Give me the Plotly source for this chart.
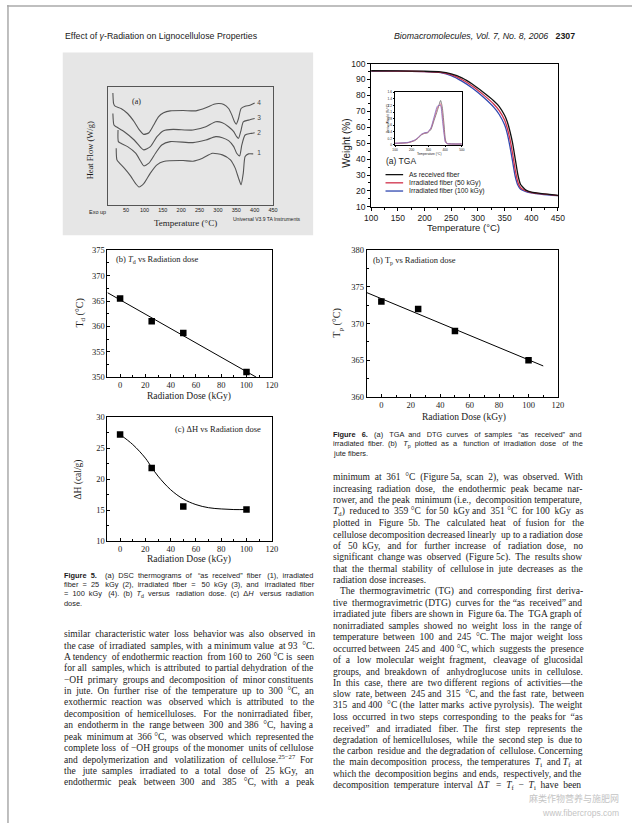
import re
import plotly.graph_objects as go
import numpy as np

W, H = 639, 828

# ---------------- DATA ----------------
# Figure 5a: DSC thermograms (temperature in degC, heat flow in arbitrary offset units)
dsc1_T = [23, 25, 32, 45, 63, 76, 85, 98, 116, 134, 152, 205, 232, 258, 285, 312, 334, 347, 356, 363, 369, 374, 383, 396]
dsc1_hf = [1.70, 1.35, 1.25, 1.10, 0.85, 0.63, 0.53, 0.63, 0.95, 1.20, 1.30, 1.33, 1.31, 1.40, 1.55, 1.50, 1.35, 1.10, 0.80, 0.60, 0.95, 1.45, 1.53, 1.53]
dsc2_T = [28, 29, 36, 54, 76, 90, 98, 112, 130, 147, 170, 232, 267, 294, 312, 329, 343, 351, 359, 365, 374, 391, 400]
dsc2_hf = [2.25, 1.90, 1.85, 1.75, 1.55, 1.30, 1.17, 1.25, 1.55, 1.80, 1.90, 1.87, 1.95, 2.05, 2.02, 1.93, 1.75, 1.55, 1.47, 1.80, 2.10, 2.15, 2.17]
dsc3_T = [14, 17, 23, 45, 72, 90, 98, 116, 134, 152, 178, 232, 267, 294, 312, 329, 343, 351, 356, 363, 369, 383, 400]
dsc3_hf = [2.75, 2.40, 2.35, 2.20, 1.95, 1.72, 1.65, 1.75, 2.05, 2.23, 2.27, 2.25, 2.35, 2.50, 2.47, 2.35, 2.20, 2.05, 2.00, 2.25, 2.50, 2.55, 2.60]
dsc4_T = [14, 16, 20, 36, 54, 72, 85, 98, 112, 125, 138, 152, 170, 205, 240, 267, 289, 303, 316, 329, 338, 345, 350, 356, 363, 374, 387, 400]
dsc4_hf = [3.37, 3.05, 2.97, 2.90, 2.75, 2.50, 2.27, 2.12, 2.17, 2.40, 2.65, 2.77, 2.83, 2.84, 2.83, 2.92, 3.03, 3.05, 3.02, 2.90, 2.70, 2.50, 2.43, 2.60, 2.90, 2.97, 3.00, 3.07]
dsc_curve_labels = ["1", "2", "3", "4"]
dsc_label_hf = [1.55, 2.15, 2.60, 3.05]
dsc_ticks = [50, 100, 150, 200, 250, 300, 350, 400, 450]

# Figure 5b / 5c / 6b: values vs radiation dose
dose = [0, 25, 50, 100]
td = [365.5, 361.0, 358.7, 351.0]
dh = [27.2, 21.8, 15.6, 15.1]
dh_fit_dose = [0, 10, 20, 25, 30, 40, 50, 60, 70, 80, 90, 100]
dh_fit = [27.2, 25.6, 23.4, 21.9, 20.5, 18.3, 16.8, 15.9, 15.4, 15.2, 15.1, 15.1]
tp = [373.0, 372.0, 369.0, 365.0]

# Figure 6a: TGA (weight %) and inset DTG
tga_T = [100, 150, 200, 230, 250, 270, 290, 310, 330, 340, 350, 355, 360, 365, 370, 375, 380, 390, 400, 420, 450]
tga_asrec = [95.5, 95.4, 95.2, 94.8, 93.5, 91.0, 87.0, 82.0, 76.5, 73.0, 67.5, 63.5, 57.5, 50.0, 40.0, 30.0, 24.0, 20.5, 19.3, 18.3, 17.2]
tga_50 = [95.4, 95.3, 95.0, 94.5, 93.0, 90.0, 85.8, 80.5, 74.5, 70.5, 64.5, 59.5, 52.5, 43.5, 33.0, 25.5, 22.0, 20.0, 19.0, 18.1, 17.1]
tga_100 = [95.3, 95.2, 94.9, 94.3, 92.5, 89.0, 84.5, 79.0, 72.5, 68.0, 61.5, 56.0, 48.0, 38.5, 29.0, 23.5, 21.0, 19.6, 18.8, 17.9, 17.0]
tga_names = ["As received fiber", "Irradiated fiber (50 kGy)", "Irradiated fiber (100 kGy)"]
tga_colors = ["#111111", "#d0304a", "#3048b0"]
dtg_T = [100, 178, 217, 237, 256, 276, 295, 315, 334, 354, 373, 383, 393, 402, 412, 500]
dtg_asrec = [0.05, 0.07, 0.13, 0.20, 0.30, 0.35, 0.37, 0.47, 0.75, 1.05, 1.35, 1.15, 0.65, 0.15, 0.05, 0.03]
dtg_50 = [0.05, 0.07, 0.14, 0.21, 0.31, 0.36, 0.38, 0.50, 0.80, 1.12, 1.25, 0.95, 0.45, 0.10, 0.04, 0.03]
dtg_100 = [0.05, 0.08, 0.15, 0.22, 0.32, 0.37, 0.39, 0.52, 0.85, 1.18, 1.20, 0.80, 0.35, 0.08, 0.04, 0.03]

# Text
header_left = "Effect of <i>γ</i>-Radiation on Lignocellulose Properties"
header_right = "<i>Biomacromolecules,</i> <i>Vol. 7, No. 8, 2006</i>\u00a0\u00a0 <b>2307</b>"
cap5 = ["<b>Figure 5.</b>\u00a0 (a) DSC thermograms of “as received” fiber (1), irradiated",
        "fiber = 25 kGy (2), irradiated fiber = 50 kGy (3), and irradiated fiber",
        "= 100 kGy (4). (b) <i>T</i><sub>d</sub> versus radiation dose. (c) Δ<i>H</i> versus radiation",
        "dose."]
cap6 = ["<b>Figure 6.</b>\u00a0 (a) TGA and DTG curves of samples “as received” and",
        "irradiated fiber. (b) <i>T</i><sub>p</sub> plotted as a function of irradiation dose of the",
        "jute fibers."]
body_left = [
    "similar characteristic water loss behavior was also observed in",
    "the case of irradiated samples, with a minimum value at 93 °C.",
    "A tendency of endothermic reaction from 160 to 260 °C is seen",
    "for all samples, which is attributed to partial dehydration of the",
    "−OH primary groups and decomposition of minor constituents",
    "in jute. On further rise of the temperature up to 300 °C, an",
    "exothermic reaction was observed which is attributed to the",
    "decomposition of hemicelluloses. For the nonirradiated fiber,",
    "an endotherm in the range between 300 and 386 °C, having a",
    "peak minimum at 366 °C, was observed which represented the",
    "complete loss of −OH groups of the monomer units of cellulose",
    "and depolymerization and volatilization of cellulose.<sup>25−27</sup> For",
    "the jute samples irradiated to a total dose of 25 kGy, an",
    "endothermic peak between 300 and 385 °C, with a peak",
]
body_right = [
    "minimum at 361 °C (Figure 5a, scan 2), was observed. With",
    "increasing radiation dose, the endothermic peak became nar-",
    "rower, and the peak minimum (i.e., decomposition temperature,",
    "<i>T</i><sub>d</sub>) reduced to 359 °C for 50 kGy and 351 °C for 100 kGy as",
    "plotted in Figure 5b. The calculated heat of fusion for the",
    "cellulose decomposition decreased linearly up to a radiation dose",
    "of 50 kGy, and for further increase of radiation dose, no",
    "significant change was observed (Figure 5c). The results show",
    "that the thermal stability of cellulose in jute decreases as the",
    "radiation dose increases.",
    "The thermogravimetric (TG) and corresponding first deriva-",
    "tive thermogravimetric (DTG) curves for the “as received” and",
    "irradiated jute fibers are shown in Figure 6a. The TGA graph of",
    "nonirradiated samples showed no weight loss in the range of",
    "temperature between 100 and 245 °C. The major weight loss",
    "occurred between 245 and 400 °C, which suggests the presence",
    "of a low molecular weight fragment, cleavage of glucosidal",
    "groups, and breakdown of anhydroglucose units in cellulose.",
    "In this case, there are two different regions of activities—the",
    "slow rate, between 245 and 315 °C, and the fast rate, between",
    "315 and 400 °C (the latter marks active pyrolysis). The weight",
    "loss occurred in two steps corresponding to the peaks for “as",
    "received” and irradiated fiber. The first step represents the",
    "degradation of hemicelluloses, while the second step is due to",
    "the carbon residue and the degradation of cellulose. Concerning",
    "the main decomposition process, the temperatures <i>T</i><sub>i</sub> and <i>T</i><sub>f</sub> at",
    "which the decomposition begins and ends, respectively, and the",
    "decomposition temperature interval Δ<i>T</i> = <i>T</i><sub>f</sub> − <i>T</i><sub>i</sub> have been",
]
body_right_para_end = [9]
watermark = ["麻类作物营养与施肥网", "www.fibercrops.com"]

# ---------------- text metrics (for justified columns) ----------------
def _table(spec):
    t = {}
    for chars, w in spec:
        for ch in chars:
            t[ch] = w
    return t

SERIF_W = _table([(" \u00a0,.", 250), ("0123456789", 500), ("()-frI", 333), ("/:;ijlt", 278),
                  ("acez", 444), ("bdghknopquvxy", 500), ("s", 389), ("m", 778), ("w", 722),
                  ("ADGHKNOQUVXY", 722), ("BCR", 667), ("ELTZ", 611), ("FPS", 556), ("J", 389),
                  ("M", 889), ("W", 944), ("°", 400), ("“”", 444), ("—", 1000), ("−=+", 564),
                  ("Δ", 612), ("γ", 411), ("?", 444)])
SANS_W = _table([(" \u00a0,./:;ft", 278), ("0123456789", 556), ("()-r", 333), ("ijl", 222),
                 ("abdeghnopqu", 556), ("cksvxyz", 500), ("m", 833), ("w", 722),
                 ("ABEKPSVXY", 667), ("CDHNRU", 722), ("FTZ", 611), ("GOQ", 778), ("I", 278),
                 ("J", 500), ("L", 556), ("M", 833), ("W", 944), ("“”", 333), ("=", 584), ("Δ", 668),
                 ("°", 400)])


def line_width(s, table, size):
    total, scale, bold = 0.0, 1.0, 1.0
    for part in re.split(r"(<[^>]+>)", s):
        if part.startswith("<"):
            t = part.lower()
            if t in ("<sub>", "<sup>"):
                scale = 0.7
            elif t in ("</sub>", "</sup>"):
                scale = 1.0
            elif t == "<b>":
                bold = 1.07
            elif t == "</b>":
                bold = 1.0
            continue
        for ch in part:
            total += table.get(ch, 500) * scale * bold
    return total * size / 1000.0


def justify(s, table, size, target):
    parts = s.split(" ")
    gaps = len(parts) - 1
    if gaps < 1:
        return s
    extra = target - line_width(s, table, size)
    if extra <= 0:
        return s
    sp = table[" "] * size / 1000.0
    out, used = parts[0], 0
    for k in range(1, gaps + 1):
        n = int(round(extra * k / gaps / sp)) - used
        used += n
        out += " " + "\u00a0" * n + parts[k]
    return out

# ---------------- FIGURE ----------------
SERIF = "Liberation Serif"
SANS = "Liberation Sans"
INK = "#1a1a1a"


def X(p):
    return p / W


def Y(p):
    return 1 - p / H


ann = []


def text(x, y, s, size=9.5, family=SERIF, anchor="left", color=INK, angle=0):
    ann.append(dict(x=X(x), y=Y(y), xref="paper", yref="paper", text=s, showarrow=False,
                    xanchor=anchor, yanchor="middle", textangle=angle,
                    font=dict(size=size, family=family, color=color)))


fig = go.Figure()

# DSC curves
for T, hf in [(dsc1_T, dsc1_hf), (dsc2_T, dsc2_hf), (dsc3_T, dsc3_hf), (dsc4_T, dsc4_hf)]:
    fig.add_trace(go.Scatter(x=T, y=hf, mode="lines",
                             line=dict(color="#555555", width=1.1, shape="spline", smoothing=0.6),
                             xaxis="x", yaxis="y", showlegend=False, hoverinfo="skip"))
fig.add_trace(go.Scatter(x=[407] * 4, y=dsc_label_hf, mode="text", text=dsc_curve_labels,
                         textposition="middle right", textfont=dict(size=6.5, family=SANS, color="#444"),
                         xaxis="x", yaxis="y", showlegend=False, hoverinfo="skip"))

# Fig 5b
m, b = np.polyfit(dose, td, 1)
fx = np.array([-10, (350 - b) / m])
fig.add_trace(go.Scatter(x=fx, y=m * fx + b, mode="lines", line=dict(color="black", width=1),
                         xaxis="x2", yaxis="y2", showlegend=False, hoverinfo="skip"))
fig.add_trace(go.Scatter(x=dose, y=td, mode="markers", marker=dict(symbol="square", size=6.5, color="black"),
                         xaxis="x2", yaxis="y2", showlegend=False))

# Fig 5c
fig.add_trace(go.Scatter(x=dh_fit_dose, y=dh_fit, mode="lines", line=dict(color="black", width=1, shape="spline"),
                         xaxis="x3", yaxis="y3", showlegend=False, hoverinfo="skip"))
fig.add_trace(go.Scatter(x=dose, y=dh, mode="markers", marker=dict(symbol="square", size=6.5, color="black"),
                         xaxis="x3", yaxis="y3", showlegend=False))

# Fig 6a TGA
for ys, c in zip([tga_100, tga_50, tga_asrec], tga_colors[::-1]):
    fig.add_trace(go.Scatter(x=tga_T, y=ys, mode="lines", line=dict(color=c, width=1.3, shape="spline", smoothing=0.5),
                             xaxis="x4", yaxis="y4", showlegend=False))
# inset DTG
for ys, c in zip([dtg_asrec, dtg_50, dtg_100], ["#666666", "#e0607a", "#8070c0"]):
    fig.add_trace(go.Scatter(x=dtg_T, y=ys, mode="lines", line=dict(color=c, width=0.8, shape="spline", smoothing=0.5),
                             xaxis="x5", yaxis="y5", showlegend=False))

# Fig 6b
m2, b2 = np.polyfit(dose, tp, 1)
fx2 = np.array([-10, 110])
fig.add_trace(go.Scatter(x=fx2, y=m2 * fx2 + b2, mode="lines", line=dict(color="black", width=1),
                         xaxis="x6", yaxis="y6", showlegend=False, hoverinfo="skip"))
fig.add_trace(go.Scatter(x=dose, y=tp, mode="markers", marker=dict(symbol="square", size=6.5, color="black"),
                         xaxis="x6", yaxis="y6", showlegend=False))


def axis(x0, x1, rng, anchor, font, size, **kw):
    d = dict(domain=[x0, x1], range=rng, anchor=anchor, showline=True, linecolor="black", linewidth=1,
             mirror=True, ticks="outside", ticklen=3, tickwidth=1, tickcolor="black", showgrid=False,
             zeroline=False, tickfont=dict(family=font, size=size, color=INK))
    d.update(kw)
    return d


MINX = dict(ticks="inside", ticklen=2, dtick=10, tick0=0)
MINY = dict(ticks="inside", ticklen=2, dtick=2.5)
layout = dict(
    width=W, height=H, autosize=False, margin=dict(l=0, r=0, t=0, b=0),
    paper_bgcolor="white", plot_bgcolor="rgba(0,0,0,0)",
    xaxis=axis(X(103), X(272), [0, 450], "y", SANS, 5.5, tickvals=dsc_ticks, ticks="", linecolor="#555"),
    yaxis=axis(Y(202), Y(83), [0, 3.55], "x", SANS, 5, showticklabels=False, ticks="", linecolor="#555"),
    xaxis2=axis(X(102.7), X(270.7), [-10, 120], "y2", SERIF, 8.5, tick0=0, dtick=20, ticks="inside", minor=MINX),
    yaxis2=axis(Y(376.7), Y(248.3), [350, 375], "x2", SERIF, 8.5, dtick=5, ticks="inside", minor=MINY),
    xaxis3=axis(X(102.7), X(270.7), [-10, 120], "y3", SERIF, 8.5, tick0=0, dtick=20, ticks="inside", minor=MINX),
    yaxis3=axis(Y(542.7), Y(417.3), [10, 30], "x3", SERIF, 8.5, dtick=5, ticks="inside", minor=MINY),
    xaxis4=axis(X(372.3), X(563.3), [100, 450], "y4", SANS, 8.5, dtick=50,
                minor=dict(ticks="outside", ticklen=2, dtick=25)),
    yaxis4=axis(Y(204.3), Y(59.3), [10, 100], "x4", SANS, 8.5, dtick=10,
                minor=dict(ticks="outside", ticklen=2, dtick=5)),
    xaxis5=axis(X(396.7), X(465), [100, 500], "y5", SANS, 3.2, dtick=100, ticklen=1.5, linewidth=0.7),
    yaxis5=axis(Y(141.7), Y(88.3), [0, 1.6], "x5", SANS, 3.2, dtick=0.2, ticklen=1.5, linewidth=0.7),
    xaxis6=axis(X(367.7), X(563.3), [-10, 120], "y6", SERIF, 8.5, tick0=0, dtick=20, ticks="inside", minor=MINX),
    yaxis6=axis(Y(396.7), Y(248.3), [360, 380], "x6", SERIF, 8.5, dtick=5, ticks="inside", minor=MINY),
)

shapes = [
    dict(type="rect", xref="paper", yref="paper", x0=X(57), x1=X(313), y0=Y(233), y1=Y(48),
         fillcolor="#e6e6e6", line=dict(width=0), layer="below"),
    dict(type="line", xref="paper", yref="paper", x0=0, x1=1, y0=Y(1), y1=Y(1), line=dict(color="#aaaaaa", width=1.5)),
    dict(type="line", xref="paper", yref="paper", x0=X(1), x1=X(1), y0=0, y1=1, line=dict(color="#aaaaaa", width=1.5)),
]
for i, c in enumerate(tga_colors):
    yy = 171.7 + 8.3 * i
    shapes.append(dict(type="line", xref="paper", yref="paper", x0=X(387), x1=X(405), y0=Y(yy), y1=Y(yy),
                       line=dict(color=c, width=1.3)))
    text(409, yy, tga_names[i], size=6.8, family=SANS)

# Header
text(57, 31, header_left, size=8.8, family=SANS)
text(583, 31, header_right, size=8.8, family=SANS, anchor="right")

# DSC annotations
text(132, 98, "(a)", size=8, family=SERIF, anchor="center")
text(85, 147, "Heat Flow (W/g)", size=8.5, family=SERIF, anchor="center", angle=-90)
text(183, 221, "Temperature (°C)", size=9, family=SERIF, anchor="center")
text(93, 210, "Exo up", size=5.5, family=SANS, anchor="center")
text(266, 217, "Universal V3.9 TA Instruments", size=5, family=SANS, anchor="center")

# Fig 5b annotations
text(109, 258, "(b) <i>T</i><sub>d</sub> vs Radiation dose", size=8.5)
text(75, 312, "T<sub>d</sub> (°C)", size=10, anchor="center", angle=-90)
text(186, 396, "Radiation Dose (kGy)", size=9.5, anchor="center")

# Fig 5c annotations
text(170, 429, "(c) ΔH vs Radiation dose", size=8.5)
text(73, 480, "ΔH (cal/g)", size=9.5, anchor="center", angle=-90)
text(186, 561, "Radiation Dose (kGy)", size=9.5, anchor="center")

# Fig 6a annotations
text(347, 140, "Weight (%)", size=10, family=SANS, anchor="center", angle=-90)
text(467, 225, "Temperature (°C)", size=9.5, family=SANS, anchor="center")
text(385, 158, "(a) TGA", size=8.5, family=SANS)
text(389, 115, "Deriv. Weight (%/°C)", size=3.2, family=SANS, anchor="center", angle=-90)
text(431, 150.5, "Temperature (°C)", size=3.2, family=SANS, anchor="center")

# Fig 6b annotations
text(372, 259, "(b) T<sub>p</sub> vs Radiation dose", size=8.5)
text(338, 322, "T<sub>p</sub> (°C)", size=10, anchor="center", angle=-90)
text(467, 418, "Radiation Dose (kGy)", size=9.5, anchor="center")

# Captions (justified to the column width)
CAP = 7.4
COL = 250
for i, s in enumerate(cap5):
    s2 = justify(s, SANS_W, CAP, COL) if i < len(cap5) - 1 else s
    text(56.7, 577 + 9.6 * i, s2, size=CAP, family=SANS)
for i, s in enumerate(cap6):
    s2 = justify(s, SANS_W, CAP, COL) if i < len(cap6) - 1 else s
    text(331.7, 435 + 9.3 * i, s2, size=CAP, family=SANS)

# Body text (justified)
BODY = 9.5
for i, s in enumerate(body_left):
    text(56.7, 637 + 11.5 * i, justify(s, SERIF_W, BODY, COL), size=BODY)
for i, s in enumerate(body_right):
    indent = 7 if i == 10 else 0
    s2 = s if i in body_right_para_end else justify(s, SERIF_W, BODY, COL - indent)
    text(331.7 + indent, 478.3 + 11.55 * i, s2, size=BODY)

# Watermark
text(628, 803, watermark[0], size=9, family="Noto Sans CJK SC", anchor="right", color="#c4c4c4")
text(628, 818, watermark[1], size=8.5, family=SANS, anchor="right", color="#c4c4c4")

layout["shapes"] = shapes
layout["annotations"] = ann
fig.update_layout(**layout)

fig.write_html("out.html", config={"displayModeBar": False},
               post_script="document.body.style.margin='0';document.body.style.overflow='hidden';")
